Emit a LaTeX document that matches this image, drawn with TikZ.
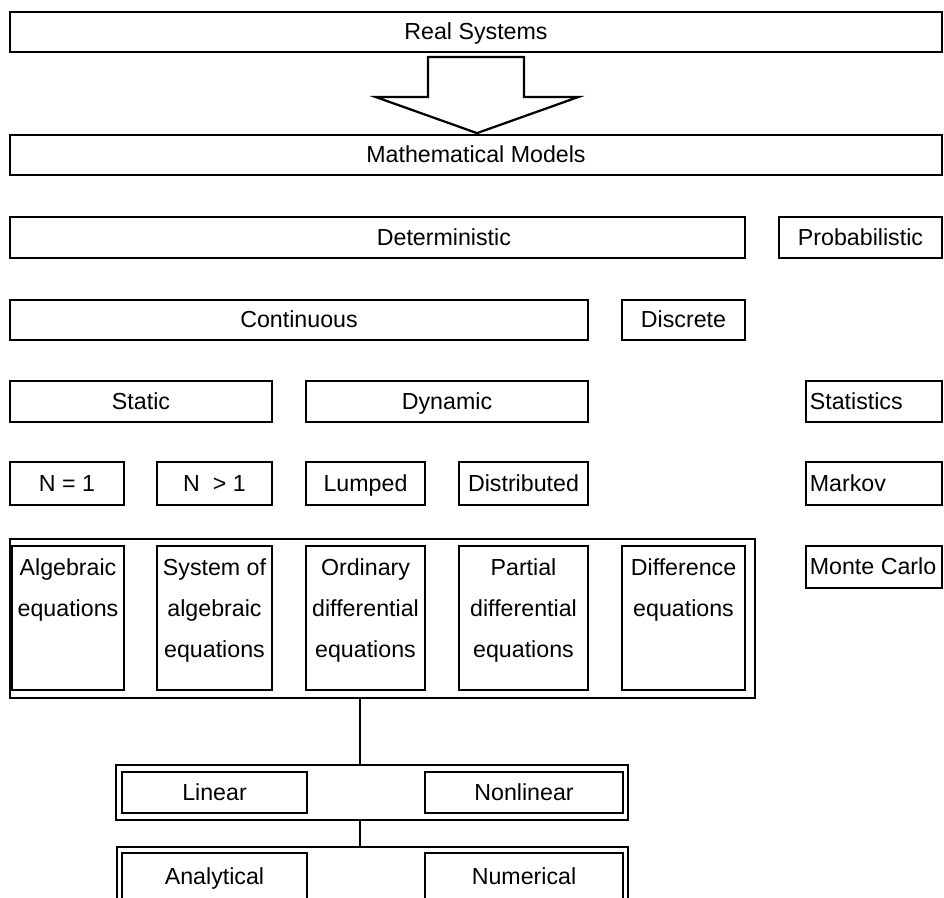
\documentclass[tikz,border=0pt]{standalone}
\usepackage{fontspec}
\setmainfont{Liberation Sans}
\tikzset{
txt/.style={font=\fontsize{16.5}{29}\selectfont, text height=13pt, text depth=2.2pt},
box/.style={draw, line width=1.6pt, inner sep=0pt, txt},
wh/.style 2 args={minimum width=#1*0.025cm, minimum height=#2*0.025cm},
eqtext/.style={label={[anchor=north, align=center, yshift=-0.22cm,
	font=\fontsize{16.5}{29}\selectfont]north:#1}},
lefttext/.style={label={[anchor=west, txt]west:#1}}
}

\begin{document}
\begin{tikzpicture}[x=0.025cm, y=-0.025cm]
	\useasboundingbox (0,0) rectangle (944,898);
	\clip (0,0) rectangle (944,898);
	\node[box, wh={932}{40}] (real) at (476,32) {Real Systems};
	\node[box, wh={932}{40}] (math) at (476,155) {Mathematical Models};
	\draw[line width=1.6pt] (real.south) ++(-48,4) -- ++(96,0) -- ++(0,40)
		-- ++(54,0) -- ++(-101,36) -- ++(-101,-36) -- ++(52,0) -- cycle;
	% deterministic / probabilistic
	\node[box, wh={735}{41}, label={[xshift=1.66cm, txt]center:Deterministic}] (det) at (377.5,237.5) {};
	\node[box, wh={163}{41}] (prob) at (860.5,237.5) {Probabilistic};
	\node[box, wh={578}{40}] (cont) at (299,320) {Continuous};
	\node[box, wh={123}{40}] (disc) at (683.5,320) {Discrete};
	\node[box, wh={262}{41}] (stat) at (141,401.5) {Static};
	\node[box, wh={282}{41}] (dyn) at (447,401.5) {Dynamic};
	\node[box, wh={136}{41}, lefttext=Statistics] (stats) at (874,401.5) {};
	\node[box, wh={114}{43}] (none) at (67,483.5) {N = 1};
	\node[box, wh={115}{43}] (nmany) at (214.5,483.5) {N\ \ > 1};
	\node[box, wh={119}{43}] (lump) at (365.5,483.5) {Lumped};
	\node[box, wh={129}{43}] (dist) at (523.5,483.5) {Distributed};
	\node[box, wh={136}{43}, lefttext=Markov] (markov) at (874,483.5) {};
	% equations
	\node[box, wh={745}{159}] (eqs) at (382.5,618.5) {};
	\node[box, wh={112}{144}, eqtext={Algebraic\\equations}] (alg) at (68,618) {};
	\node[box, wh={115}{144}, eqtext={System of\\algebraic\\equations}] (sys) at (214.5,618) {};
	\node[box, wh={119}{144}, eqtext={Ordinary\\differential\\equations}] (ode) at (365.5,618) {};
	\node[box, wh={129}{144}, eqtext={Partial\\differential\\equations}] (pde) at (523.5,618) {};
	\node[box, wh={123}{144}, eqtext={Difference\\equations}] (diff) at (683.5,618) {};
	\node[box, wh={136}{42}, lefttext=Monte Carlo] (monte) at (874,567) {};
	% solution
	\node[box, wh={512}{55}] (lingrp) at (372,792.5) {};
	\node[box, wh={185}{41}] (lin) at (214.5,792.5) {Linear};
	\node[box, wh={198}{41}] (nonlin) at (524,792.5) {Nonlinear};
	\node[box, wh={511}{66}] (solgrp) at (372.5,880) {};
	\node[box, wh={185}{48}] (ana) at (214.5,877) {Analytical};
	\node[box, wh={198}{48}] (num) at (524,877) {Numerical};
	\draw[line width=1.6pt] ([xshift=-0.14cm]eqs.south -| ode.south) -- ([xshift=-0.14cm]lingrp.north -| ode.south);
	\draw[line width=1.6pt] ([xshift=-0.14cm]lingrp.south -| ode.south) -- ([xshift=-0.14cm]solgrp.north -| ode.south);
\end{tikzpicture}
\end{document}
